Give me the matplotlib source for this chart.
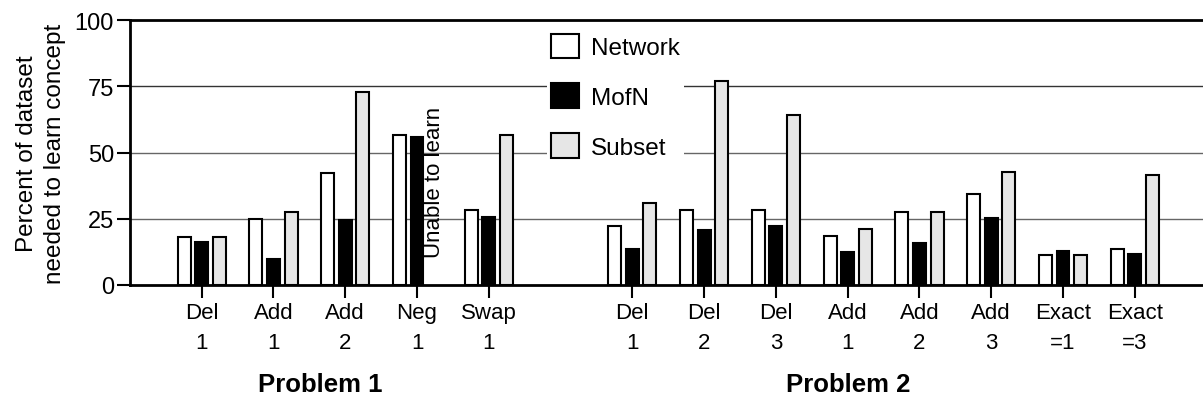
import numpy as np
import matplotlib
matplotlib.use("Agg")
import matplotlib.pyplot as plt
from matplotlib.patches import Patch

plt.rcParams['font.family'] = ['Liberation Sans', 'DejaVu Sans']

# tests (x positions 0..4 = Problem 1, 6..13 = Problem 2)
labels = ["Del\n1", "Add\n1", "Add\n2", "Neg\n1", "Swap\n1",
          "Del\n1", "Del\n2", "Del\n3", "Add\n1", "Add\n2", "Add\n3", "Exact\n=1", "Exact\n=3"]
positions = [0, 1, 2, 3, 4, 6, 7, 8, 9, 10, 11, 12, 13]

network = [18.0, 25.0, 42.3, 56.6, 28.3, 22.1, 28.3, 28.3, 18.6, 27.4, 34.2, 11.3, 13.6]
mofn    = [16.3, 9.8, 24.6, 55.7, 25.5, 13.6, 20.8, 22.1, 12.3, 15.8, 25.3, 12.9, 11.6]
subset  = [18.0, 27.4, 72.7, np.nan, 56.6, 30.8, 76.9, 64.2, 21.1, 27.4, 42.5, 11.3, 41.6]

fig = plt.figure(figsize=(12.03, 4.02), dpi=100)
ax = fig.add_axes([0.108, 0.2886, 0.892, 0.659])

x = np.array(positions, dtype=float)
w = 0.18
off = 0.245
ax.bar(x - off, network, w, color='white', edgecolor='black', linewidth=1.5, zorder=3)
ax.bar(x, mofn, w, color='black', edgecolor='black', linewidth=1.5, zorder=3)
ax.bar(x + off, subset, w, color='#e6e6e6', edgecolor='black', linewidth=1.5, zorder=3)

# Neg 1 had no subset result
ax.text(3 + off, 10.5, "Unable to learn", rotation=90, ha='center', va='bottom',
        fontsize=16, zorder=4)

ax.set_xlim(-1, 13.95)
ax.set_ylim(0, 100)
ax.set_yticks([0, 25, 50, 75, 100])
ax.set_xticks(positions)
ax.set_xticklabels(labels, fontsize=16, linespacing=1.55)
ax.tick_params(axis='y', labelsize=17, length=9.5, width=1.5, direction='out', pad=2)
ax.tick_params(axis='x', length=9.5, width=1.5, direction='out', pad=3)

for v, c in [(25, '#666666'), (50, '#666666'), (75, '#333333')]:
    ax.axhline(v, color=c, linewidth=1.0, zorder=1)
ax.spines['top'].set_linewidth(2)
ax.spines['left'].set_linewidth(2)
ax.spines['bottom'].set_linewidth(2)
ax.spines['right'].set_visible(False)

ax.set_ylabel("Percent of dataset\nneeded to learn concept", fontsize=17.5,
              linespacing=1.35, labelpad=6)

handles = [Patch(facecolor='white', edgecolor='black', linewidth=1.5),
           Patch(facecolor='black', edgecolor='black', linewidth=1.5),
           Patch(facecolor='#e6e6e6', edgecolor='black', linewidth=1.5)]
leg = ax.legend(handles, ["Network", "MofN", "Subset"], loc='upper left',
                bbox_to_anchor=(547 / 1203, 1 - 31 / 402), bbox_transform=fig.transFigure,
                fontsize=17.5, frameon=True, framealpha=1, edgecolor='none', fancybox=False,
                handlelength=1.17, handleheight=1.17, labelspacing=1.0,
                handletextpad=0.5, borderpad=0.15, borderaxespad=0)
leg.set_zorder(5)

fig.text(320 / 1203, 1 - 385 / 402, "Problem 1", fontsize=18.5, fontweight='bold',
         ha='center', va='center')
fig.text(848 / 1203, 1 - 385 / 402, "Problem 2", fontsize=18.5, fontweight='bold',
         ha='center', va='center')

fig.savefig("out.png", dpi=100)
